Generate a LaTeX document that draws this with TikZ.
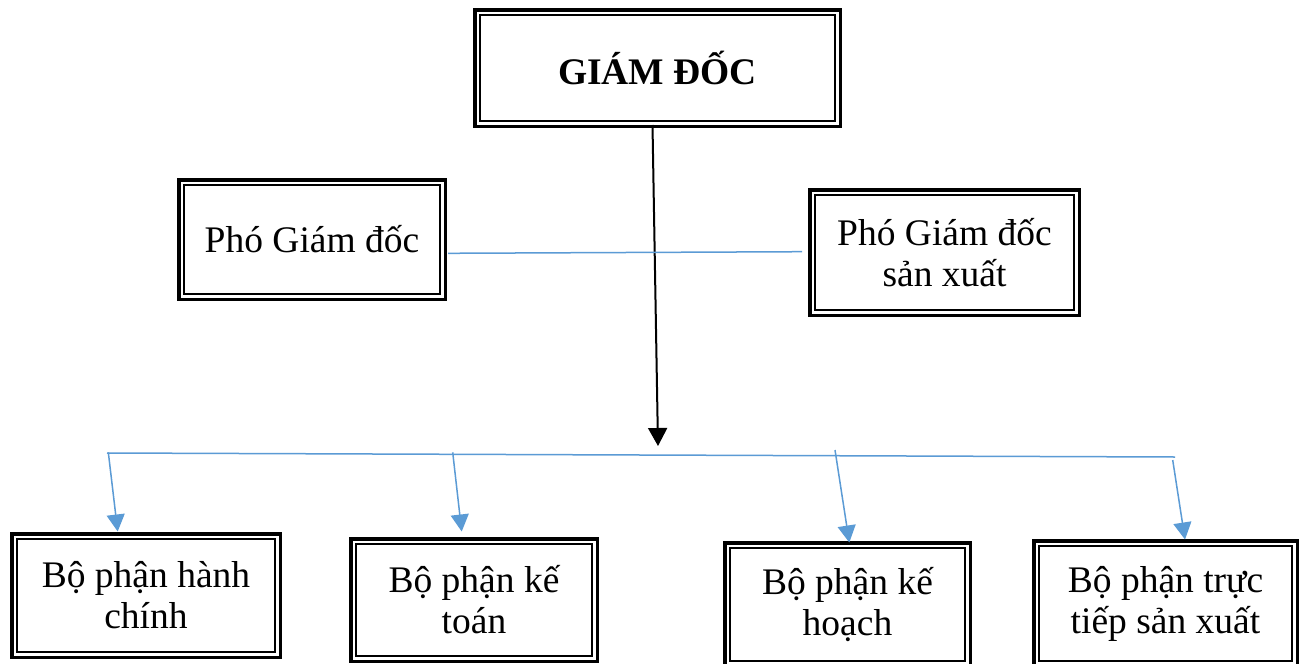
\documentclass[tikz,border=0pt]{standalone}
\usepackage{fontspec}
\setmainfont{Liberation Serif}
\usetikzlibrary{arrows.meta}
\definecolor{bluel}{RGB}{91,155,213}
\tikzset{
  boxtext/.style={draw=black, line width=3.5pt, inner sep=0pt, outer sep=0pt,
    align=center, font=\fontsize{37.5}{41}\selectfont},
  innerline/.style={draw=black, line width=1.9pt},
  blueline/.style={draw=bluel, line width=1.5pt},
  bluearrow/.style={draw=bluel, line width=1.5pt, -{Triangle[length=17pt,width=18pt,fill=bluel]}},
  blackarrow/.style={draw=black, line width=2pt, -{Triangle[length=18pt,width=19pt]}},
}
\newcommand\mkbox[6]{%
  \node[boxtext, minimum width={#4-#2-3.5}, minimum height={#5-#3-3.5}] (#1) at ({(#2+#4)/2},{-(#3+#5)/2}) {#6};
  \draw[innerline] ([shift={(5.15,-5.15)}]#1.north west) rectangle ([shift={(-5.15,5.15)}]#1.south east);
}
\begin{document}
\begin{tikzpicture}[x=1pt,y=1pt]
\useasboundingbox[fill=white] (0,0) rectangle (1304,-664);
\mkbox{A}{473}{8}{842}{128}{\textbf{GIÁM ĐỐC}}
\mkbox{B}{177}{178}{447}{301}{Phó Giám đốc}
\mkbox{C}{808}{188}{1081}{317}{Phó Giám đốc\\sản xuất}
\mkbox{D}{10}{532}{282}{659}{Bộ phận hành\\chính}
\mkbox{E}{349}{537}{599}{663}{Bộ phận kế\\toán}
\mkbox{F}{723}{541}{972}{668}{Bộ phận kế\\hoạch}
\mkbox{G}{1032}{539}{1299}{668}{Bộ phận trực\\tiếp sản xuất}
% coordinates
\coordinate (Abot) at (652.5,-125);
\coordinate (Atip) at (658,-446);
\coordinate (Bend) at (448,-253.3);
\coordinate (Cend) at (802,-251.7);
\coordinate (busL) at (107,-453);
\coordinate (busR) at (1175,-457);
\coordinate (s1) at (108.3,-452.3);
\coordinate (t1) at (117.7,-531.5);
\coordinate (s2) at (452.7,-452.3);
\coordinate (t2) at (461.7,-531.5);
\coordinate (s3) at (835,-450);
\coordinate (t3) at (849.3,-542.5);
\coordinate (s4) at (1172.7,-460);
\coordinate (t4) at (1185,-539.5);
% connectors
\draw[blackarrow] (Abot) -- (Atip);
\draw[blueline] (Bend) -- (Cend);
\draw[blueline] (busL) -- (busR);
\draw[bluearrow] (s1) -- (t1);
\draw[bluearrow] (s2) -- (t2);
\draw[bluearrow] (s3) -- (t3);
\draw[bluearrow] (s4) -- (t4);
\end{tikzpicture}
\end{document}
